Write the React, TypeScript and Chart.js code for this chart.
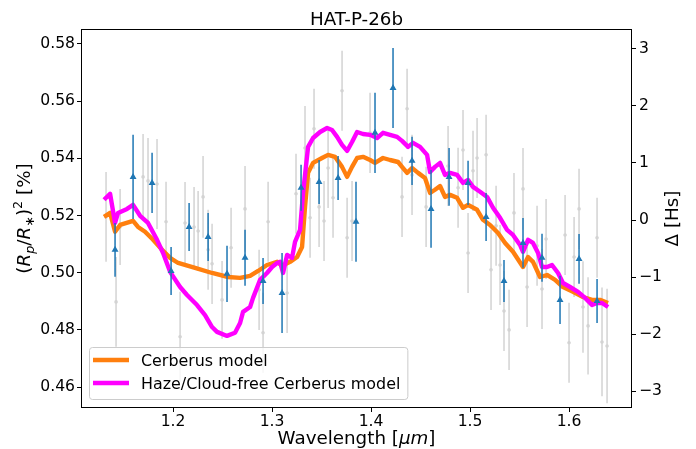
import { useEffect, useRef } from "react";
import { Chart, registerables } from "chart.js";

Chart.register(...registerables);

// ---------- text ----------
const TITLE = "HAT-P-26b";
const LEGEND_LABELS = ["Cerberus model", "Haze/Cloud-free Cerberus model"];

// ---------- axes ----------
const xTicks = [1.2, 1.3, 1.4, 1.5, 1.6];
const yTicks = [0.46, 0.48, 0.5, 0.52, 0.54, 0.56, 0.58];
const y2Ticks = [-3, -2, -1, 0, 1, 2, 3];
const xRange = [1.107, 1.6636];
const yRange = [0.4527, 0.5852];
const y2Range = [-3.29, 3.345];

// ---------- Cerberus model (orange) ----------
const cerberusWave = [
  1.1303, 1.1364, 1.1414, 1.1465, 1.1596, 1.1646, 1.1717, 1.1798, 1.1889, 1.197,
  1.2051, 1.2222, 1.2394, 1.2556, 1.2677, 1.2778, 1.2859, 1.2949, 1.3051, 1.3101,
  1.3182, 1.3253, 1.3303, 1.3333, 1.3364, 1.3414, 1.3505, 1.3566, 1.3636, 1.3707,
  1.3758, 1.3808, 1.3859, 1.3919, 1.399, 1.404, 1.4121, 1.4192, 1.4273, 1.4313,
  1.4364, 1.4414, 1.4475, 1.4545, 1.4596, 1.4646, 1.4697, 1.4747, 1.4798, 1.4869,
  1.4929, 1.498, 1.5071, 1.5131, 1.5202, 1.5283, 1.5354, 1.5434, 1.5535, 1.5586,
  1.5636, 1.5707, 1.5778, 1.5859, 1.5939, 1.604, 1.6141, 1.6232, 1.6313, 1.6394,
];
const cerberusDepth = [
  0.5195, 0.5209, 0.5143, 0.5167, 0.5181, 0.516, 0.5143, 0.5115, 0.508, 0.5052,
  0.5034, 0.5017, 0.4999, 0.4985, 0.4982, 0.4989, 0.5006, 0.5027, 0.5038, 0.5024,
  0.5038, 0.5055, 0.509, 0.523, 0.5349, 0.5384, 0.5401, 0.5412, 0.5405, 0.537,
  0.5335, 0.537, 0.5401, 0.5405, 0.5394, 0.5384, 0.5401, 0.5394, 0.5387, 0.537,
  0.5349, 0.5366, 0.5349, 0.5331, 0.5279, 0.529, 0.5303, 0.5265, 0.5272, 0.5262,
  0.5227, 0.5237, 0.522, 0.5185, 0.5167, 0.5139, 0.5104, 0.5073, 0.502, 0.5055,
  0.5038, 0.4985, 0.4992, 0.4975, 0.495, 0.4933, 0.4915, 0.4905, 0.4905, 0.4894,
];

// ---------- Haze/Cloud-free model (magenta) ----------
const hazeFreeWave = [
  1.1303, 1.1364, 1.1414, 1.1444, 1.1535, 1.1596, 1.1667, 1.1747, 1.1838, 1.1899,
  1.197, 1.2071, 1.2141, 1.2242, 1.2323, 1.2394, 1.2444, 1.2545, 1.2626, 1.2677,
  1.2707, 1.2778, 1.2808, 1.2879, 1.2949, 1.3, 1.3051, 1.3081, 1.3111, 1.3152,
  1.3202, 1.3232, 1.3283, 1.3313, 1.3364, 1.3414, 1.3485, 1.3556, 1.3606, 1.3657,
  1.3707, 1.3758, 1.3808, 1.3859, 1.3919, 1.399, 1.4061, 1.4121, 1.4192, 1.4263,
  1.4313, 1.4374, 1.4424, 1.4495, 1.4566, 1.4596, 1.4646, 1.4697, 1.4747, 1.4798,
  1.4869, 1.4929, 1.498, 1.503, 1.5101, 1.5172, 1.5232, 1.5303, 1.5374, 1.5434,
  1.5505, 1.5535, 1.5586, 1.5636, 1.5687, 1.5727, 1.5778, 1.5828, 1.5889, 1.5939,
  1.601, 1.6091, 1.6162, 1.6232, 1.6283, 1.6333, 1.6394,
];
const hazeFreeDepth = [
  0.5255, 0.5276, 0.5174, 0.5209, 0.5223, 0.5237, 0.5199, 0.5174, 0.5115, 0.5069,
  0.5003, 0.495, 0.4922, 0.4887, 0.4852, 0.481, 0.4793, 0.4779, 0.479, 0.4824,
  0.4863, 0.488, 0.4912, 0.4975, 0.4999, 0.502, 0.5034, 0.5038, 0.4999, 0.5062,
  0.5052, 0.5108, 0.515, 0.5279, 0.544, 0.5471, 0.5492, 0.5506, 0.5499, 0.5475,
  0.5447, 0.5426, 0.5457, 0.5492, 0.5485, 0.5482, 0.5471, 0.5489, 0.5482, 0.5475,
  0.5461, 0.544, 0.5454, 0.544, 0.5412, 0.5352, 0.537, 0.5384, 0.5342, 0.5349,
  0.5342, 0.5314, 0.5324, 0.53, 0.5283, 0.5265, 0.5227, 0.5192, 0.515, 0.5132,
  0.5097, 0.5073, 0.5115, 0.5104, 0.5069, 0.502, 0.502, 0.5027, 0.4999, 0.4964,
  0.495, 0.4933, 0.4912, 0.4887, 0.4894, 0.4894, 0.488,
];

// ---------- binned data (blue triangles) ----------
const binWave = [
  1.1414, 1.1596, 1.1788, 1.198, 1.2162, 1.2354, 1.2545, 1.2727, 1.2909, 1.3101,
  1.3293, 1.3475, 1.3667, 1.3848, 1.404, 1.4222, 1.4414, 1.4606, 1.4788, 1.498,
  1.5162, 1.5343, 1.5535, 1.5727, 1.5909, 1.6101, 1.6283,
];
const binDepth = [
  0.508, 0.5335, 0.5314, 0.5006, 0.516, 0.5125, 0.4996, 0.5052, 0.4971, 0.4929,
  0.5297, 0.5317, 0.5331, 0.5178, 0.5489, 0.5646, 0.5391, 0.5223, 0.5335, 0.5314,
  0.5195, 0.4971, 0.5104, 0.5052, 0.4905, 0.5048, 0.4901,
];
const binErr = [
  0.0094, 0.0147, 0.0105, 0.0084, 0.0084, 0.0084, 0.0098, 0.0098, 0.008, 0.014,
  0.008, 0.0077, 0.0077, 0.014, 0.014, 0.014, 0.0084, 0.0136, 0.0101, 0.0077,
  0.0084, 0.0073, 0.0087, 0.0084, 0.0084, 0.0087, 0.0077,
];

// ---------- unbinned data (grey) ----------
const rawWave = [
  1.1323, 1.1424, 1.1465, 1.1697, 1.1747, 1.1838, 1.1929, 1.2071, 1.2121, 1.2212,
  1.2253, 1.2303, 1.2354, 1.2394, 1.2495, 1.2586, 1.2727, 1.2869, 1.2909, 1.296,
  1.3152, 1.3242, 1.3333, 1.3384, 1.3424, 1.3475, 1.3525, 1.3566, 1.3616, 1.3707,
  1.3758, 1.3808, 1.399, 1.4313, 1.4364, 1.4414, 1.4556, 1.4778, 1.4879, 1.4929,
  1.498, 1.503, 1.5071, 1.5162, 1.5212, 1.5263, 1.5303, 1.5343, 1.5394, 1.5444,
  1.5535, 1.5576, 1.5677, 1.5727, 1.5768, 1.596, 1.6, 1.6051, 1.6101, 1.6141,
  1.6192, 1.6283, 1.6333, 1.6384,
];
const rawDepth = [
  0.5195, 0.4898, 0.516, 0.5335, 0.5321, 0.531, 0.5178, 0.4776, 0.5174, 0.516,
  0.5146, 0.5265, 0.508, 0.5031, 0.4905, 0.5087, 0.5223, 0.494, 0.479, 0.5178,
  0.4929, 0.5276, 0.5436, 0.5192, 0.5503, 0.523, 0.5181, 0.5366, 0.5262, 0.5636,
  0.5122, 0.5181, 0.5489, 0.5265, 0.5573, 0.5342, 0.523, 0.5373, 0.5297, 0.5429,
  0.5069, 0.5356, 0.5401, 0.5412, 0.501, 0.5164, 0.5027, 0.4866, 0.48, 0.5209,
  0.5293, 0.495, 0.5094, 0.4943, 0.5118, 0.5132, 0.4755, 0.5055, 0.5223, 0.488,
  0.4814, 0.5122, 0.4758, 0.4744,
];
const rawErr = [
  0.0157, 0.0157, 0.0133, 0.015, 0.015, 0.0157, 0.014, 0.0157, 0.0143, 0.014,
  0.014, 0.0143, 0.014, 0.014, 0.0136, 0.014, 0.015, 0.014, 0.014, 0.014,
  0.014, 0.014, 0.0147, 0.014, 0.014, 0.014, 0.014, 0.014, 0.014, 0.014,
  0.014, 0.014, 0.014, 0.014, 0.014, 0.014, 0.014, 0.014, 0.014, 0.014,
  0.014, 0.014, 0.014, 0.014, 0.014, 0.014, 0.014, 0.014, 0.014, 0.014,
  0.0143, 0.014, 0.014, 0.014, 0.014, 0.014, 0.014, 0.014, 0.014, 0.016,
  0.017, 0.014, 0.019, 0.02,
];

// ---------- styles ----------
const ORANGE = "#ff7f0e";
const MAGENTA = "#ff00ff";
const BLUE = "#1f77b4";
const GREY = "#d3d3d3";
const FONT = '"DejaVu Sans", "Noto Sans", sans-serif';
const TICK_PX = 15.6;
const LEGEND_PX = 15.9;
const LABEL_PX = 18.3;

type Seg = { t: string; it?: boolean; s?: number; dy?: number };

function segFont(seg: Seg, size: number) {
  return `${seg.it ? "italic " : ""}${(seg.s ?? 1) * size}px ${FONT}`;
}

function drawSegs(
  ctx: CanvasRenderingContext2D,
  segs: Seg[],
  cx: number,
  baseY: number,
  size: number,
  rot: number,
  ox: number,
  oy: number
) {
  ctx.save();
  ctx.translate(ox, oy);
  ctx.rotate(rot);
  let w = 0;
  for (const s of segs) {
    ctx.font = segFont(s, size);
    w += ctx.measureText(s.t).width;
  }
  let x = cx - w / 2;
  ctx.fillStyle = "#000";
  ctx.textBaseline = "alphabetic";
  ctx.textAlign = "left";
  for (const s of segs) {
    ctx.font = segFont(s, size);
    ctx.fillText(s.t, x, baseY + (s.dy ?? 0) * size);
    x += ctx.measureText(s.t).width;
  }
  ctx.restore();
}

function drawErrorBars(
  chart: any,
  xs: number[],
  ys: number[],
  es: number[],
  color: string,
  width: number
) {
  const { ctx, chartArea } = chart;
  const xs_ = chart.scales.x;
  const ys_ = chart.scales.y;
  ctx.save();
  ctx.beginPath();
  ctx.rect(chartArea.left, chartArea.top, chartArea.right - chartArea.left, chartArea.bottom - chartArea.top);
  ctx.clip();
  ctx.strokeStyle = color;
  ctx.lineWidth = width;
  ctx.beginPath();
  for (let i = 0; i < xs.length; i++) {
    const px = xs_.getPixelForValue(xs[i]);
    ctx.moveTo(px, ys_.getPixelForValue(ys[i] - es[i]));
    ctx.lineTo(px, ys_.getPixelForValue(ys[i] + es[i]));
  }
  ctx.stroke();
  ctx.restore();
}

const decorPlugin = {
  id: "decor",
  beforeDatasetDraw(chart: any, args: any) {
    if (args.index === 2) drawErrorBars(chart, rawWave, rawDepth, rawErr, GREY, 1.5);
    if (args.index === 3) drawErrorBars(chart, binWave, binDepth, binErr, BLUE, 1.5);
  },
  afterDraw(chart: any) {
    const { ctx, chartArea: a } = chart;
    const cx = (a.left + a.right) / 2;
    const cy = (a.top + a.bottom) / 2;
    // frame
    ctx.save();
    ctx.strokeStyle = "#000";
    ctx.lineWidth = 1;
    ctx.strokeRect(Math.round(a.left) + 0.5, Math.round(a.top) + 0.5, Math.round(a.right - a.left) - 1, Math.round(a.bottom - a.top) - 1);
    ctx.restore();

    // title
    drawSegs(ctx, [{ t: TITLE }], cx, 0, LABEL_PX, 0, 0, a.top - 4);
    // x label
    drawSegs(ctx, [{ t: "Wavelength [" }, { t: "μm", it: true }, { t: "]" }], cx, 0, LABEL_PX, 0, 0, a.bottom + 36);
    // left y label
    drawSegs(
      ctx,
      [
        { t: "(" },
        { t: "R", it: true },
        { t: "p", it: true, s: 0.7, dy: 0.2 },
        { t: "/" },
        { t: "R", it: true },
        { t: "∗", s: 0.7, dy: 0.2 },
        { t: ")" },
        { t: "2", s: 0.7, dy: -0.42 },
        { t: " [%]" },
      ],
      0,
      6,
      LABEL_PX,
      -Math.PI / 2,
      a.left - 57,
      cy
    );
    // right y label
    drawSegs(ctx, [{ t: "Δ [Hs]" }], 0, 6, LABEL_PX, -Math.PI / 2, a.right + 40, cy);

    // legend
    ctx.save();
    ctx.font = `${LEGEND_PX}px ${FONT}`;
    const lx = a.left + 8;
    const ly = a.bottom - 61;
    const textX = lx + 52;
    let tw = 0;
    for (const l of LEGEND_LABELS) tw = Math.max(tw, ctx.measureText(l).width);
    const bw = textX - lx + tw + 7;
    const bh = 52;
    ctx.beginPath();
    ctx.roundRect(lx + 0.5, ly + 0.5, bw, bh, 3);
    ctx.fillStyle = "rgba(255,255,255,0.8)";
    ctx.fill();
    ctx.strokeStyle = "#cccccc";
    ctx.lineWidth = 1;
    ctx.stroke();
    const colors = [ORANGE, MAGENTA];
    LEGEND_LABELS.forEach((lab, i) => {
      const yy = ly + 13 + i * 23;
      ctx.strokeStyle = colors[i];
      ctx.lineWidth = 4.4;
      ctx.lineCap = "butt";
      ctx.beginPath();
      ctx.moveTo(lx + 4, yy);
      ctx.lineTo(lx + 40, yy);
      ctx.stroke();
      ctx.fillStyle = "#000";
      ctx.textBaseline = "alphabetic";
      ctx.fillText(lab, textX, yy + 6);
    });
    ctx.restore();
  },
};

const pts = (xs: number[], ys: number[]) => xs.map((x, i) => ({ x, y: ys[i] }));

export default function App() {
  const ref = useRef<HTMLCanvasElement | null>(null);
  useEffect(() => {
    if (!ref.current) return;
    const tickFont = { family: FONT, size: TICK_PX };
    const grid = {
      display: true,
      drawOnChartArea: false,
      drawTicks: true,
      tickLength: 4,
      tickColor: "#000",
      tickWidth: 1,
    };
    const chart = new Chart(ref.current, {
      type: "scatter",
      data: {
        datasets: [
          {
            label: LEGEND_LABELS[0],
            data: pts(cerberusWave, cerberusDepth),
            showLine: true,
            borderColor: ORANGE,
            borderWidth: 4.4,
            pointRadius: 0,
            borderJoinStyle: "round",
            order: 3,
          },
          {
            label: LEGEND_LABELS[1],
            data: pts(hazeFreeWave, hazeFreeDepth),
            showLine: true,
            borderColor: MAGENTA,
            borderWidth: 4.4,
            pointRadius: 0,
            borderJoinStyle: "round",
            order: 2,
          },
          {
            label: "raw",
            data: pts(rawWave, rawDepth),
            pointRadius: 1.8,
            backgroundColor: GREY,
            borderWidth: 0,
            order: 4,
          },
          {
            label: "binned",
            data: pts(binWave, binDepth),
            pointStyle: "triangle",
            pointRadius: 4,
            backgroundColor: BLUE,
            borderColor: BLUE,
            borderWidth: 0,
            order: 1,
          },
        ],
      },
      options: {
        responsive: false,
        animation: false,
        events: [],
        devicePixelRatio: 1,
        layout: { padding: { top: 29, left: 0, right: 0, bottom: 0 } },
        plugins: { legend: { display: false }, tooltip: { enabled: false }, title: { display: false } },
        scales: {
          x: {
            type: "linear",
            min: xRange[0],
            max: xRange[1],
            afterBuildTicks: (s: any) => {
              s.ticks = xTicks.map((v) => ({ value: v }));
            },
            afterFit: (s: any) => {
              s.height = 41;
            },
            ticks: { color: "#000", font: tickFont, padding: 1, callback: (v: any) => Number(v).toFixed(1) },
            grid,
            border: { display: false },
          },
          y: {
            type: "linear",
            position: "left",
            min: yRange[0],
            max: yRange[1],
            afterBuildTicks: (s: any) => {
              s.ticks = yTicks.map((v) => ({ value: v }));
            },
            afterFit: (s: any) => {
              s.width = 81;
            },
            ticks: { color: "#000", font: tickFont, padding: 2, callback: (v: any) => Number(v).toFixed(2) },
            grid,
            border: { display: false },
          },
          y2: {
            type: "linear",
            position: "right",
            min: y2Range[0],
            max: y2Range[1],
            afterBuildTicks: (s: any) => {
              s.ticks = y2Ticks.map((v) => ({ value: v }));
            },
            afterFit: (s: any) => {
              s.width = 64;
            },
            ticks: {
              color: "#000",
              font: tickFont,
              padding: 3,
              callback: (v: any) => (Number(v) < 0 ? "\u2212" + Math.abs(Number(v)) : String(v)),
            },
            grid,
            border: { display: false },
          },
        },
      },
      plugins: [decorPlugin],
    });
    return () => chart.destroy();
  }, []);
  return (
    <div style={{ position: "absolute", left: 0, top: 0, width: 696, height: 449, background: "#fff" }}>
      <canvas ref={ref} width={696} height={449} style={{ display: "block" }} />
    </div>
  );
}
